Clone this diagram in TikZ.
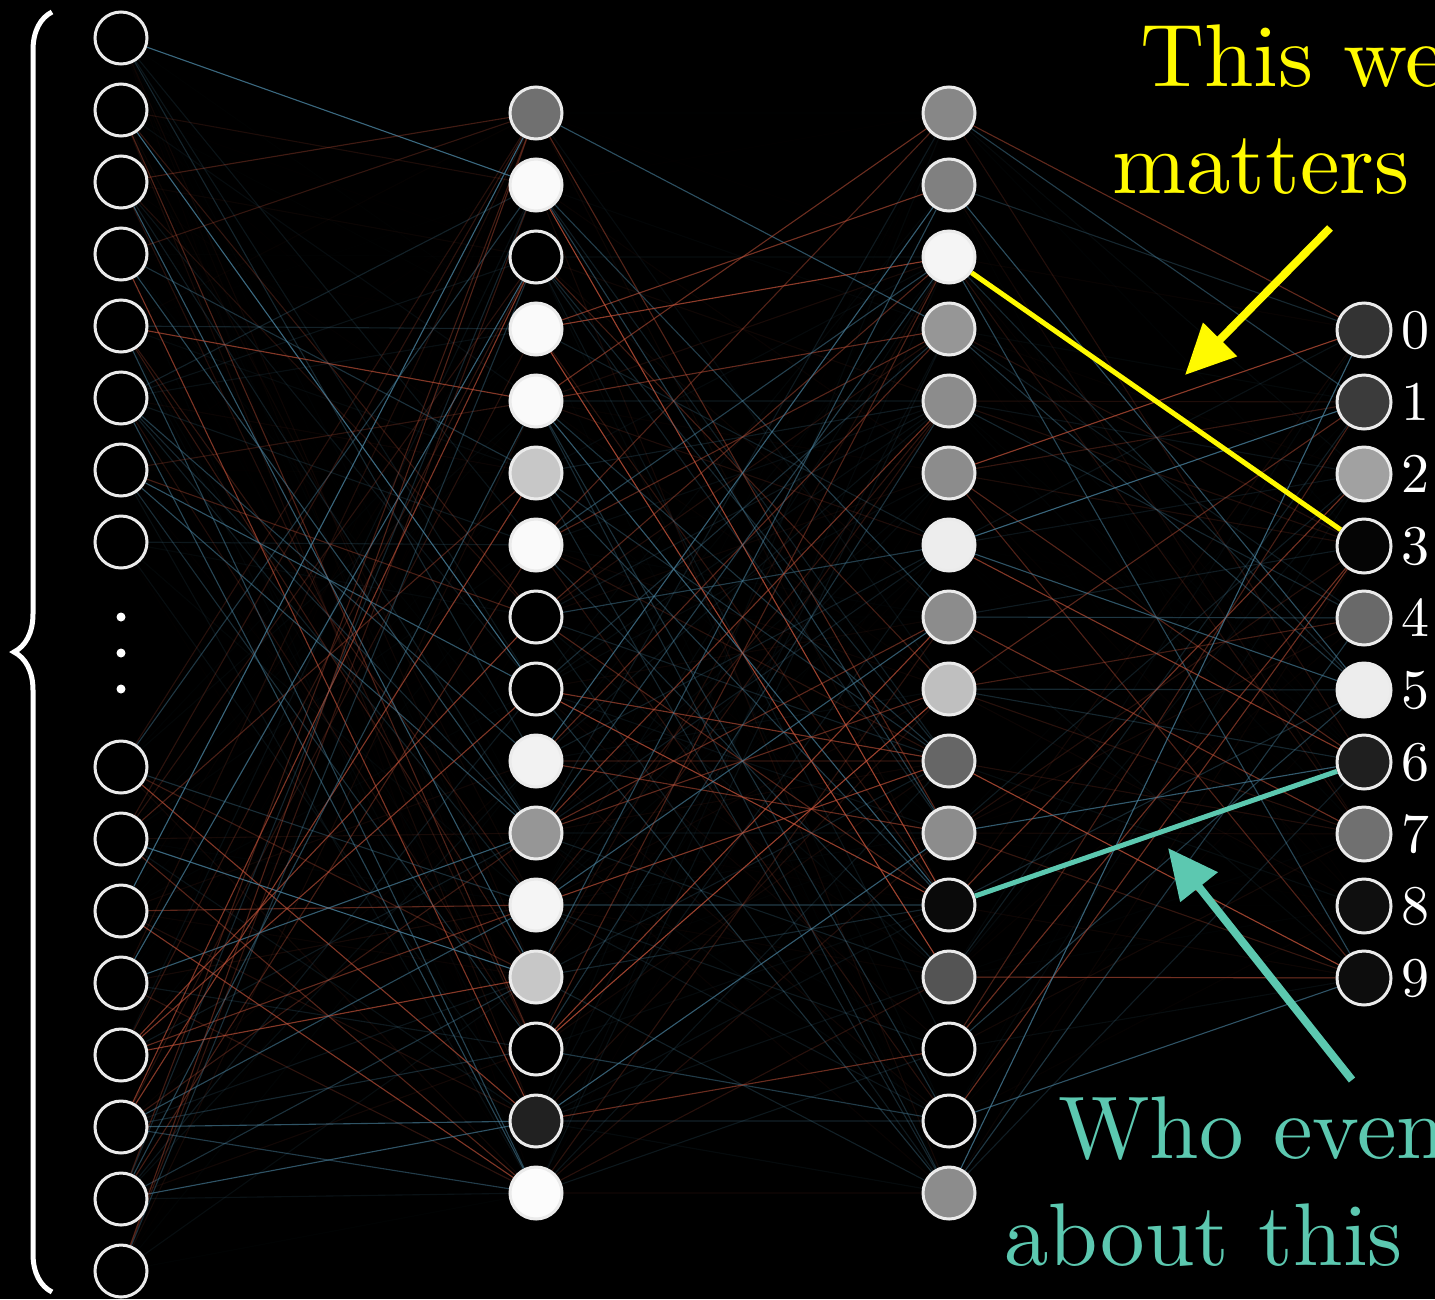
\documentclass[tikz,border=0pt]{standalone}
\usepackage{fontspec}
\newfontfamily\notefont{lmroman10-regular.otf}
\usetikzlibrary{arrows.meta,backgrounds,decorations.pathreplacing,positioning}

\definecolor{edgered}{RGB}{190,80,56}
\definecolor{edgeblue}{RGB}{72,128,156}
\definecolor{noteyellow}{RGB}{255,250,0}
\definecolor{noteteal}{RGB}{92,200,176}

\tikzset{
  neuron/.style={circle, draw=white!92!black, line width=3pt,
    minimum size=52pt, inner sep=0pt},
  wire/.style={line width=1.1pt},
  callout/.style={line width=8pt, -{Triangle[length=50pt,width=46pt]}},
  note/.style={inner sep=0pt, anchor=base west,
    font=\notefont\fontsize{89}{100}\selectfont},
  digit/.style={inner sep=0pt, text=white,
    font=\notefont\fontsize{56}{60}\selectfont},
}

\begin{document}
\begin{tikzpicture}[x=1pt,y=-1pt]
\clip (0,0) rectangle (1435,1299);

% input layer
\foreach \i in {1,...,8}
  \node[neuron, fill=black] (in\i) at (121,{38+72*(\i-1)}) {};
\foreach \i in {9,...,16}
  \node[neuron, fill=black] (in\i) at (121,{767+72*(\i-9)}) {};
\foreach \y in {617,653,689}
  \fill[white] (121,\y) circle (4.5);

\draw[white, line width=5pt, decorate, decoration={brace, amplitude=38pt}]
  (52,1292) -- (52,12);

% hidden layers
\foreach \g [count=\i] in {44,98,0,98,98,78,98,0,0,95,59,96,78,0,13,99}
  \node[neuron, fill=white!\g!black] (ha\i) at (536,{41+72*\i}) {};
\foreach \g [count=\i] in {53,50,96,59,55,55,93,55,75,40,55,4,33,0,0,55}
  \node[neuron, fill=white!\g!black] (hb\i) at (949,{41+72*\i}) {};

% output layer
\foreach \g [count=\k from 0] in {20,23,63,2,41,93,12,44,6,5} {
  \node[neuron, minimum size=54pt, fill=white!\g!black] (out\k) at (1364,{330+72*\k}) {};
  \node[digit, right=9pt of out\k] (lab\k) {\k};
}

% weights
\begin{pgfonlayer}{background}
\fill[black] (0,0) rectangle (1435,1299);
\pgfmathsetseed{31}
\foreach \i in {1,...,16}
  \foreach \j in {1,...,16} {
    \pgfmathsetmacro\w{2*rnd-1}
    \pgfmathsetmacro\op{0.85*abs(\w)^5}
    \ifdim\w pt>0pt \def\tint{edgered}\else\def\tint{edgeblue}\fi
    \draw[wire, \tint, opacity=\op] (in\i) -- (ha\j);
  }
\foreach \i in {1,...,16}
  \foreach \j in {1,...,16} {
    \pgfmathsetmacro\w{2*rnd-1}
    \pgfmathsetmacro\op{0.85*abs(\w)^5}
    \ifdim\w pt>0pt \def\tint{edgered}\else\def\tint{edgeblue}\fi
    \draw[wire, \tint, opacity=\op] (ha\i) -- (hb\j);
  }
\foreach \i in {1,...,16}
  \foreach \k in {0,...,9} {
    \pgfmathsetmacro\w{2*rnd-1}
    \pgfmathsetmacro\op{0.85*abs(\w)^5}
    \ifdim\w pt>0pt \def\tint{edgered}\else\def\tint{edgeblue}\fi
    \draw[wire, \tint, opacity=\op] (hb\i) -- (out\k);
  }
\end{pgfonlayer}

% highlighted weights
\draw[noteyellow, line width=5pt] (hb3) -- (out3);
\draw[noteteal, line width=5pt] (hb12) -- (out6);

% callouts
\coordinate (yTail) at (1330,228);
\coordinate (yTip) at (1185,375);
\draw[callout, noteyellow] (yTail) -- (yTip);
\coordinate (tTail) at (1352,1080);
\coordinate (tTip) at (1168,848);
\draw[callout, noteteal] (tTail) -- (tTip);

\node[note, text=noteyellow] (thiswe) at (1140,86) {This we};
\node[note, text=noteyellow] (matters) at (1112,193) {matters};
\node[note, text=noteteal] (whoeven) at (1058,1158) {Who even};
\node[note, text=noteteal] (aboutthis) at (1004,1265) {about this};

\end{tikzpicture}
\end{document}
